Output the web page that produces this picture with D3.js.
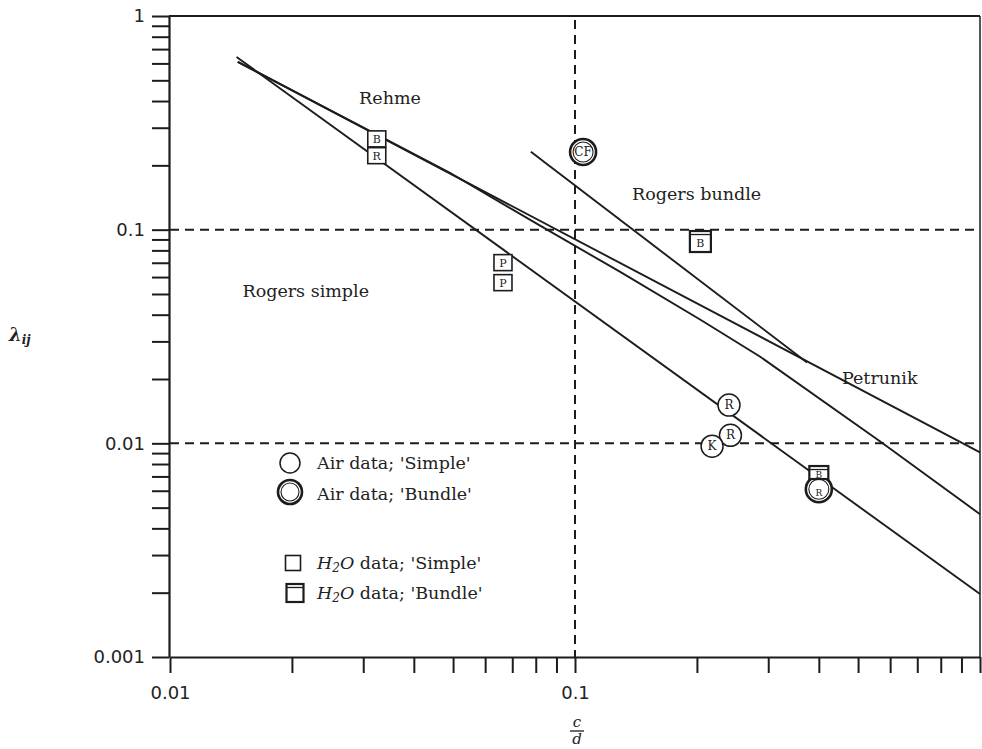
<!DOCTYPE html>
<html>
<head>
<meta charset="utf-8">
<script src="https://cdn.jsdelivr.net/npm/d3@7"></script>
<style>
  html, body { margin: 0; padding: 0; background: #fff; }
  svg { display: block; }
  .serif { font-family: "DejaVu Serif", "Liberation Serif", serif; fill: #222; }
  .tick text { font-family: "DejaVu Sans", sans-serif; fill: #222; }
</style>
</head>
<body>
<svg id="chart" width="982" height="749"></svg>
<script>
// ---- correlation lines (c/d, lambda) ----
const rogersSimpleX = [0.0146, 1.0];
const rogersSimpleY = [0.643, 0.00197];
const petrunikX = [0.0147, 1.0];
const petrunikY = [0.610, 0.00908];
const rehmeX = [0.0147, 0.0491, 0.082, 0.129, 0.2036, 0.286, 0.566, 1.0];
const rehmeY = [0.610, 0.1846, 0.1044, 0.0636, 0.038, 0.0255, 0.01022, 0.00466];
const rogersBundleX = [0.0778, 0.374];
const rogersBundleY = [0.2315, 0.0239];

// ---- measured points ----
const airSimpleX = [0.240, 0.242, 0.218];
const airSimpleY = [0.0151, 0.0109, 0.0097];
const airSimpleTag = ["R", "R", "K"];
const airBundleX = [0.1047, 0.40];
const airBundleY = [0.231, 0.0061];
const airBundleTag = ["CF", "R"];
const h2oSimpleX = [0.0324, 0.0324, 0.0664, 0.0664];
const h2oSimpleY = [0.266, 0.222, 0.0701, 0.0565];
const h2oSimpleTag = ["B", "R", "P", "P"];
const h2oBundleX = [0.204, 0.40];
const h2oBundleY = [0.088, 0.0073];
const h2oBundleTag = ["B", "B"];

// ---- axis labels ----
const xTickLabels = { 0.01: "0.01", 0.1: "0.1" };
const yTickLabels = { 1: "1", 0.1: "0.1", 0.01: "0.01", 0.001: "0.001" };
const gridX = [0.1];
const gridY = [0.1, 0.01];

const svg = d3.select("#chart");
const ink = "#1c1c1c";

const x = d3.scaleLog().domain([0.01, 1]).range([170, 980]);
const y = d3.scaleLog().domain([0.001, 1]).range([657, 16]);

// dashed reference lines
svg.append("g").selectAll("line").data(gridY).join("line")
  .attr("x1", x(0.01)).attr("x2", x(1))
  .attr("y1", d => y(d)).attr("y2", d => y(d))
  .attr("stroke", ink).attr("stroke-width", 2).attr("stroke-dasharray", "9,6");
svg.append("g").selectAll("line").data(gridX).join("line")
  .attr("x1", d => x(d)).attr("x2", d => x(d))
  .attr("y1", y(1) + 4).attr("y2", y(0.001))
  .attr("stroke", ink).attr("stroke-width", 2).attr("stroke-dasharray", "9,6");

// axes
const fmtX = d => xTickLabels[+d.toPrecision(3)] || "";
const fmtY = d => yTickLabels[+d.toPrecision(3)] || "";

const xAxis = svg.append("g").attr("transform", `translate(0,${y(0.001)})`)
  .call(d3.axisBottom(x).tickValues(x.ticks()).tickSize(16).tickSizeOuter(0)
    .tickPadding(13).tickFormat(fmtX));
const yAxis = svg.append("g").attr("transform", `translate(${x(0.01) - 1},0)`)
  .call(d3.axisLeft(y).tickValues(y.ticks()).tickSize(17).tickSizeOuter(0)
    .tickPadding(7).tickFormat(fmtY));
[xAxis, yAxis].forEach(g => {
  g.select(".domain").attr("stroke", ink).attr("stroke-width", 2.2);
  g.selectAll(".tick line").attr("stroke", ink).attr("stroke-width", 2);
  g.selectAll(".tick text").attr("font-size", 18);
});

// top and right frame
svg.append("line").attr("x1", x(0.01) - 1).attr("x2", x(1))
  .attr("y1", y(1)).attr("y2", y(1)).attr("stroke", ink).attr("stroke-width", 2.2);
svg.append("line").attr("x1", x(1)).attr("x2", x(1))
  .attr("y1", y(1)).attr("y2", y(0.001)).attr("stroke", ink).attr("stroke-width", 1.5);

// correlation lines
const lineGen = d3.line().x(d => x(d[0])).y(d => y(d[1]));
const curves = [
  [rogersSimpleX, rogersSimpleY],
  [petrunikX, petrunikY],
  [rehmeX, rehmeY],
  [rogersBundleX, rogersBundleY]
];
svg.append("g").selectAll("path").data(curves).join("path")
  .attr("d", c => lineGen(d3.zip(c[0], c[1])))
  .attr("fill", "none").attr("stroke", ink).attr("stroke-width", 1.9);

// marker helpers
function simpleCircle(g, cx, cy, r) {
  g.append("circle").attr("cx", cx).attr("cy", cy).attr("r", r)
    .attr("fill", "#fff").attr("stroke", ink).attr("stroke-width", 1.5);
}
function bundleCircle(g, cx, cy, r) {
  g.append("circle").attr("cx", cx).attr("cy", cy).attr("r", r)
    .attr("fill", "#fff").attr("stroke", ink).attr("stroke-width", 2.6);
  g.append("circle").attr("cx", cx).attr("cy", cy).attr("r", r - 3)
    .attr("fill", "none").attr("stroke", ink).attr("stroke-width", 1.1);
}
function simpleSquare(g, cx, cy, w, h) {
  g.append("rect").attr("x", cx - w / 2).attr("y", cy - h / 2).attr("width", w).attr("height", h)
    .attr("fill", "#fff").attr("stroke", ink).attr("stroke-width", 1.6);
}
function bundleSquare(g, cx, cy, w, h) {
  g.append("rect").attr("x", cx - w / 2).attr("y", cy - h / 2).attr("width", w).attr("height", h)
    .attr("fill", "#fff").attr("stroke", ink).attr("stroke-width", 2.2);
  g.append("line").attr("x1", cx - w / 2).attr("x2", cx + w / 2)
    .attr("y1", cy - h / 2 + 3.5).attr("y2", cy - h / 2 + 3.5)
    .attr("stroke", ink).attr("stroke-width", 1.3);
}
function tag(g, cx, cy, t, size) {
  g.append("text").attr("class", "serif").attr("x", cx).attr("y", cy)
    .attr("text-anchor", "middle").attr("dominant-baseline", "central")
    .attr("font-size", size).text(t);
}

const marks = svg.append("g");
h2oSimpleX.forEach((v, i) => {
  simpleSquare(marks, x(v), y(h2oSimpleY[i]), 18, 16);
  tag(marks, x(v), y(h2oSimpleY[i]) + 1, h2oSimpleTag[i], 11);
});
airSimpleX.forEach((v, i) => {
  simpleCircle(marks, x(v), y(airSimpleY[i]), 11);
  tag(marks, x(v), y(airSimpleY[i]), airSimpleTag[i], 12);
});
airBundleX.forEach((v, i) => {
  bundleCircle(marks, x(v), y(airBundleY[i]), 13);
  tag(marks, x(v), y(airBundleY[i]) + (i === 1 ? 4 : 0), airBundleTag[i], i === 1 ? 9 : 12);
});
h2oBundleX.forEach((v, i) => {
  const h = i === 1 ? 13 : 21;
  bundleSquare(marks, x(v), y(h2oBundleY[i]), i === 1 ? 19 : 21, h);
  tag(marks, x(v), y(h2oBundleY[i]) + 2, h2oBundleTag[i], i === 1 ? 9 : 11);
});

// line names
const names = [
  { t: "Rehme", x: 390, y: 104, a: "middle" },
  { t: "Rogers simple", x: 369, y: 297, a: "end" },
  { t: "Rogers bundle", x: 632, y: 200, a: "start" },
  { t: "Petrunik", x: 842, y: 384, a: "start" }
];
svg.append("g").selectAll("text").data(names).join("text")
  .attr("class", "serif").attr("font-size", 17.5)
  .attr("x", d => d.x).attr("y", d => d.y).attr("text-anchor", d => d.a)
  .text(d => d.t);

// legend
const leg = svg.append("g");
simpleCircle(leg, 290, 463, 10);
bundleCircle(leg, 290, 492, 12);
simpleSquare(leg, 293, 563, 15, 15);
bundleSquare(leg, 295, 593, 17, 18);
const legText = (yy, parts) => {
  const t = leg.append("text").attr("class", "serif").attr("font-size", 17.5)
    .attr("x", 317).attr("y", yy);
  parts.forEach(p => {
    const s = t.append("tspan").text(p.t);
    if (p.it) s.attr("font-style", "italic");
    if (p.sub) s.attr("baseline-shift", "-25%").attr("font-size", 12);
  });
};
legText(469, [{ t: "Air data; 'Simple'" }]);
legText(500, [{ t: "Air data; 'Bundle'" }]);
legText(569, [{ t: "H", it: true }, { t: "2", it: true, sub: true }, { t: "O", it: true }, { t: "  data; 'Simple'" }]);
legText(599, [{ t: "H", it: true }, { t: "2", it: true, sub: true }, { t: "O", it: true }, { t: "  data; 'Bundle'" }]);

// axis titles
const xt = svg.append("g").attr("class", "serif").attr("font-style", "italic");
xt.append("text").attr("x", 577).attr("y", 727).attr("text-anchor", "middle")
  .attr("font-size", 15).text("c");
xt.append("line").attr("x1", 570).attr("x2", 584).attr("y1", 731).attr("y2", 731)
  .attr("stroke", ink).attr("stroke-width", 1.3);
xt.append("text").attr("x", 577).attr("y", 744).attr("text-anchor", "middle")
  .attr("font-size", 15).text("d");

const yt = svg.append("text").attr("class", "serif").attr("x", 9).attr("y", 341)
  .attr("font-style", "italic").attr("font-weight", "bold");
yt.append("tspan").attr("font-size", 18).text("λ");
yt.append("tspan").attr("font-size", 12).attr("dy", 3).text("ij");
</script>
</body>
</html>
